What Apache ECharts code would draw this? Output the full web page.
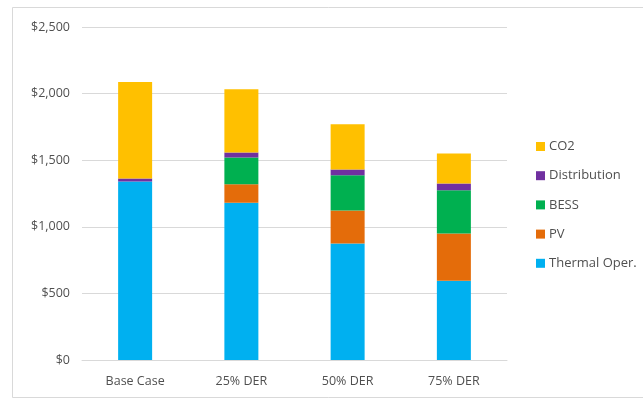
<!DOCTYPE html>
<html>
<head>
<meta charset="utf-8">
<script src="https://cdn.jsdelivr.net/npm/echarts@6/dist/echarts.min.js"></script>
<style>
  html, body { margin: 0; padding: 0; background: #fff; }
  #chart { width: 643px; height: 400px; }
</style>
</head>
<body>
<div id="chart"></div>
<script>
var categories = ['Base Case', '25% DER', '50% DER', '75% DER'];
var thermalOper = [1340, 1180, 875, 595];
var pv = [0, 140, 247, 355];
var bess = [0, 200, 265, 325];
var distribution = [22, 37, 43, 50];
var co2 = [726, 475, 340, 225];
var yTicks = [0, 500, 1000, 1500, 2000, 2500];

var chart = echarts.init(document.getElementById('chart'));
var font = '"Open Sans", "Liberation Sans", sans-serif';

function stackSeries(name, data, color) {
    return {
        name: name,
        type: 'bar',
        stack: 'cost',
        data: data,
        barWidth: 34,
        itemStyle: { color: color },
        emphasis: { disabled: true }
    };
}

var option = {
    animation: false,
    backgroundColor: '#fff',
    graphic: [{
        type: 'rect',
        shape: { x: 12.5, y: 7.5, width: 640, height: 390 },
        style: { fill: 'none', stroke: '#d9d9d9', lineWidth: 1 },
        silent: true
    }],
    grid: { left: 82, right: 136, top: 27, bottom: 40 },
    legend: {
        orient: 'vertical',
        left: 531,
        top: 135,
        itemWidth: 9,
        itemHeight: 9,
        itemGap: 16.2,
        icon: 'rect',
        data: ['CO2', 'Distribution', 'BESS', 'PV', 'Thermal Oper.'],
        textStyle: { color: '#505050', fontSize: 13, fontFamily: font, padding: [0, 0, 0, -1] }
    },
    xAxis: {
        type: 'category',
        data: categories,
        axisTick: { show: false },
        axisLine: { lineStyle: { color: '#d9d9d9' } },
        axisLabel: { color: '#505050', fontSize: 12.5, fontFamily: font, margin: 15 }
    },
    yAxis: {
        type: 'value',
        min: yTicks[0],
        max: yTicks[yTicks.length - 1],
        interval: 500,
        axisLine: { show: false },
        axisTick: { show: false },
        splitLine: { lineStyle: { color: '#d9d9d9' } },
        axisLabel: {
            color: '#505050', fontSize: 12.5, fontFamily: font, margin: 12,
            formatter: function (v) { return '$' + v.toLocaleString('en-US'); }
        }
    },
    series: [
        stackSeries('Thermal Oper.', thermalOper, '#00B0F0'),
        stackSeries('PV', pv, '#E46C0A'),
        stackSeries('BESS', bess, '#00B050'),
        stackSeries('Distribution', distribution, '#7030A0'),
        stackSeries('CO2', co2, '#FFC000')
    ]
};
chart.setOption(option);
</script>
</body>
</html>
